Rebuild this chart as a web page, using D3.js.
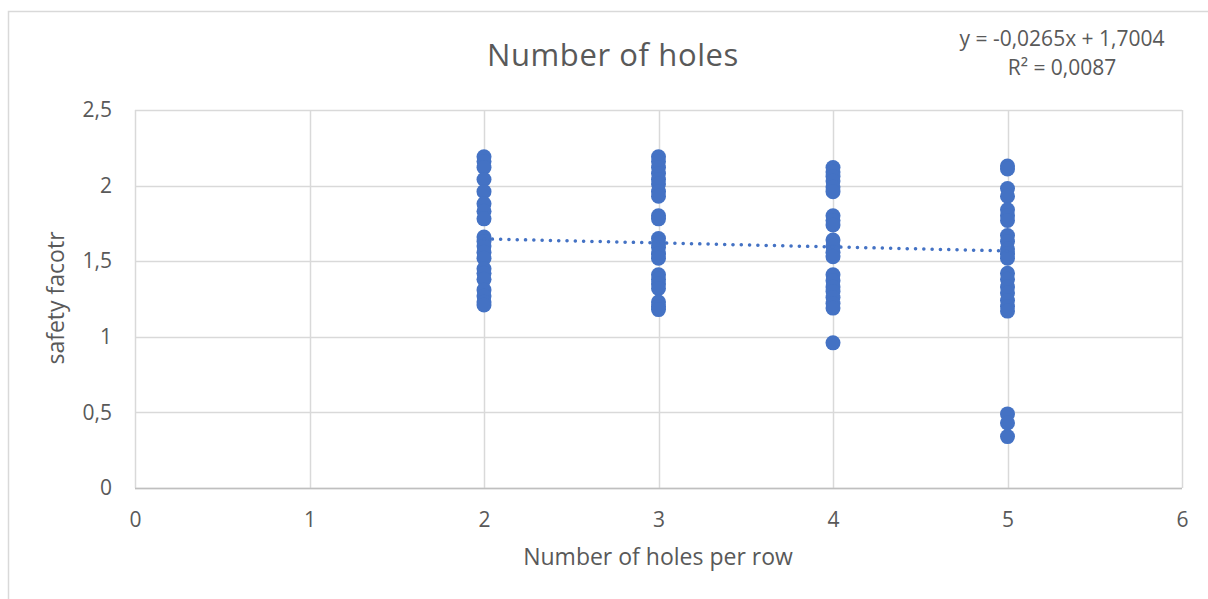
<!DOCTYPE html>
<html>
<head>
<meta charset="utf-8">
<script src="https://cdn.jsdelivr.net/npm/d3@7"></script>
<style>
  html, body { margin: 0; padding: 0; background: #fff; }
  svg { display: block; font-family: "Open Sans", "Noto Sans", sans-serif; }
</style>
</head>
<body>
<svg id="chart" width="1208" height="599"></svg>
<script>
// Safety factor measured for each number of holes per row
const holes2 = [2.19, 2.16, 2.12, 2.04, 1.96, 1.88, 1.83, 1.78, 1.66, 1.63, 1.60, 1.56, 1.52, 1.45, 1.42, 1.38, 1.31, 1.27, 1.23, 1.21];
const holes3 = [2.19, 2.16, 2.12, 2.08, 2.04, 2.01, 1.96, 1.93, 1.80, 1.78, 1.65, 1.62, 1.59, 1.55, 1.52, 1.41, 1.38, 1.35, 1.32, 1.23, 1.20, 1.18];
const holes4 = [2.12, 2.09, 2.06, 2.03, 1.99, 1.96, 1.80, 1.77, 1.74, 1.64, 1.60, 1.56, 1.53, 1.41, 1.37, 1.33, 1.30, 1.26, 1.22, 1.19, 0.96];
const holes5 = [2.13, 2.11, 1.98, 1.93, 1.84, 1.80, 1.77, 1.67, 1.63, 1.58, 1.55, 1.52, 1.42, 1.38, 1.33, 1.29, 1.24, 1.20, 1.17, 0.49, 0.43, 0.34];
const holeCounts = [2, 3, 4, 5];
const seriesValues = [holes2, holes3, holes4, holes5];

// Linear trendline coefficients
const slope = -0.0265;
const intercept = 1.7004;
const rSquared = 0.0087;

const xTicks = [0, 1, 2, 3, 4, 5, 6];
const yTicks = [0, 0.5, 1, 1.5, 2, 2.5];

const points = [];
holeCounts.forEach((h, i) => seriesValues[i].forEach(v => points.push({ x: h, y: v })));

const svg = d3.select("#chart");
const textColor = "#595959";
const gridColor = "#d9d9d9";
const markColor = "#4472C4";
const fmt = v => String(v).replace(".", ",");

// Chart frame
svg.append("rect")
  .attr("x", 8.5).attr("y", 11.5)
  .attr("width", 1400).attr("height", 800)
  .attr("fill", "#fff").attr("stroke", gridColor).attr("stroke-width", 1.5);

const x = d3.scaleLinear().domain([0, 6]).range([135, 1182]);
const y = d3.scaleLinear().domain([0, 2.5]).range([488, 110]);

// Gridlines
svg.append("g")
  .selectAll("line.h").data(yTicks).join("line")
  .attr("x1", x(0)).attr("x2", x(6))
  .attr("y1", d => Math.round(y(d)) + 0.5).attr("y2", d => Math.round(y(d)) + 0.5)
  .attr("stroke", gridColor).attr("stroke-width", 1.5);
svg.append("g")
  .selectAll("line.v").data(xTicks).join("line")
  .attr("x1", d => Math.round(x(d)) + 0.5).attr("x2", d => Math.round(x(d)) + 0.5)
  .attr("y1", y(2.5)).attr("y2", y(0))
  .attr("stroke", gridColor).attr("stroke-width", 1.5);

// Horizontal axis line
svg.append("line")
  .attr("x1", x(0)).attr("x2", x(6))
  .attr("y1", Math.round(y(0)) + 0.5).attr("y2", Math.round(y(0)) + 0.5)
  .attr("stroke", "#bfbfbf").attr("stroke-width", 1.5);

// Axes (labels only, lines drawn above)
const xAxis = svg.append("g")
  .attr("transform", `translate(0,${y(0)})`)
  .call(d3.axisBottom(x).tickValues(xTicks).tickFormat(fmt).tickSize(0).tickPadding(24));
const yAxis = svg.append("g")
  .attr("transform", `translate(${x(0)},0)`)
  .call(d3.axisLeft(y).tickValues(yTicks).tickFormat(fmt).tickSize(0).tickPadding(23));
[xAxis, yAxis].forEach(g => {
  g.select(".domain").remove();
  g.selectAll("text").attr("fill", textColor).style("font-size", "21px")
    .style("font-family", "'Open Sans', sans-serif");
});

// Data markers
svg.append("g")
  .selectAll("circle").data(points).join("circle")
  .attr("cx", d => x(d.x)).attr("cy", d => y(d.y))
  .attr("r", 7.5)
  .attr("fill", markColor);

// Trendline across the data range
const xExtent = d3.extent(holeCounts);
svg.append("path")
  .datum(xExtent.map(v => ({ x: v, y: slope * v + intercept })))
  .attr("d", d3.line().x(d => x(d.x)).y(d => y(d.y)))
  .attr("fill", "none")
  .attr("stroke", markColor)
  .attr("stroke-width", 3.5)
  .attr("stroke-linecap", "round")
  .attr("stroke-dasharray", "0.1 8.2");

// Title
svg.append("text")
  .attr("x", 613).attr("y", 66)
  .attr("text-anchor", "middle")
  .attr("fill", textColor)
  .style("font-size", "31px")
  .attr("letter-spacing", "0.6")
  .text("Number of holes");

// Trendline equation
const eq = svg.append("text")
  .attr("text-anchor", "middle")
  .attr("fill", textColor)
  .style("font-size", "21px");
eq.append("tspan").attr("x", 1062).attr("y", 46)
  .text(`y = ${fmt(slope)}x + ${fmt(intercept)}`);
eq.append("tspan").attr("x", 1062).attr("y", 75)
  .text(`R² = ${fmt(rSquared)}`);

// Axis titles
svg.append("text")
  .attr("x", 658).attr("y", 565)
  .attr("text-anchor", "middle")
  .attr("fill", textColor)
  .style("font-size", "23px")
  .text("Number of holes per row");

svg.append("text")
  .attr("transform", "translate(64,298) rotate(-90)")
  .attr("text-anchor", "middle")
  .attr("fill", textColor)
  .style("font-size", "23px")
  .text("safety facotr");
</script>
</body>
</html>
